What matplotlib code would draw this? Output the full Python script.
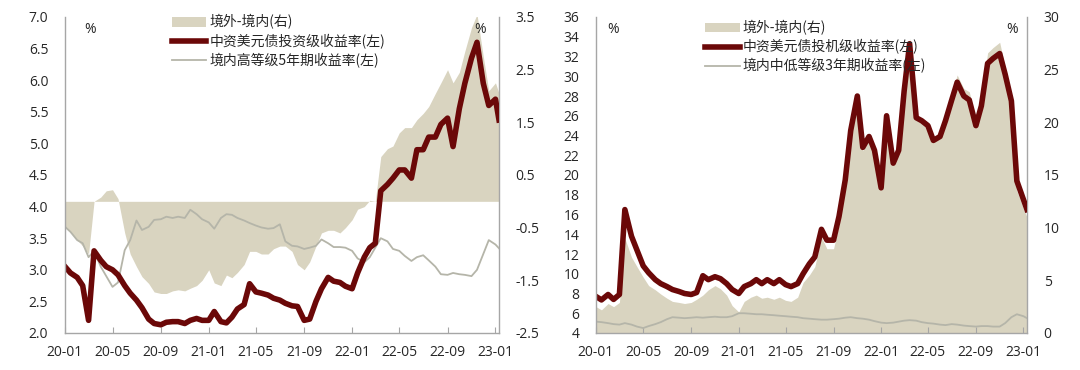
import pandas as pd
import matplotlib
matplotlib.use("Agg")
from matplotlib import pyplot as plt
from matplotlib import dates as mdates
from matplotlib.patches import Patch
from matplotlib.lines import Line2D

plt.rcParams['font.family'] = ['Open Sans', 'Noto Sans CJK SC', 'DejaVu Sans']
plt.rcParams['font.size'] = 10

# semi-monthly observation dates, last one 2023-01-10
dates = list(pd.date_range("2020-01-01", "2023-01-01", freq="SMS")) + [pd.Timestamp("2023-01-10")]

# left panel: investment grade
ig_usd = [3.05, 2.95, 2.88, 2.75, 2.2, 3.3, 3.15, 3.05, 3.0, 2.92,
          2.75, 2.63, 2.52, 2.4, 2.22, 2.15, 2.13, 2.17, 2.18, 2.18,
          2.15, 2.2, 2.23, 2.2, 2.2, 2.34, 2.18, 2.16, 2.25, 2.38,
          2.45, 2.78, 2.65, 2.63, 2.6, 2.55, 2.52, 2.47, 2.43, 2.42,
          2.2, 2.22, 2.5, 2.7, 2.88, 2.82, 2.8, 2.74, 2.7, 2.95,
          3.2, 3.35, 3.42, 4.25, 4.35, 4.45, 4.58, 4.58, 4.45, 4.9,
          4.9, 5.1, 5.1, 5.3, 5.4, 4.95, 5.55, 5.95, 6.35, 6.6,
          5.95, 5.6, 5.7, 5.37]
ig_cn = [3.68, 3.6, 3.47, 3.42, 3.2, 3.3, 3.05, 2.9, 2.73, 2.8,
         3.31, 3.47, 3.78, 3.63, 3.68, 3.79, 3.8, 3.84, 3.82, 3.84,
         3.82, 3.95, 3.88, 3.8, 3.75, 3.65, 3.82, 3.88, 3.87, 3.82,
         3.78, 3.74, 3.7, 3.67, 3.65, 3.66, 3.72, 3.45, 3.38, 3.37,
         3.33, 3.35, 3.38, 3.48, 3.42, 3.36, 3.36, 3.35, 3.3, 3.18,
         3.12, 3.2, 3.35, 3.5, 3.45, 3.33, 3.3, 3.22, 3.14, 3.2,
         3.23, 3.15, 3.05, 2.93, 2.92, 2.95, 2.93, 2.92, 2.9, 3.0,
         3.25, 3.47, 3.4, 3.34]
ig_spread = [-0.48, -0.58, -0.73, -0.85, -1.0, 0.0, 0.08, 0.2, 0.22, 0.05,
             -0.6, -1.0, -1.24, -1.43, -1.56, -1.72, -1.75, -1.75, -1.7, -1.68,
             -1.7, -1.65, -1.6, -1.5, -1.3, -1.55, -1.6, -1.4, -1.45, -1.35,
             -1.2, -0.95, -0.95, -1.0, -1.0, -0.9, -0.85, -0.85, -0.95, -1.2,
             -1.3, -1.15, -0.85, -0.6, -0.55, -0.55, -0.6, -0.5, -0.35, -0.15,
             -0.1, 0.02, 0.0, 0.85, 1.0, 1.05, 1.3, 1.4, 1.4, 1.55,
             1.67, 1.8, 2.05, 2.25, 2.5, 2.25, 2.45, 2.85, 3.3, 3.55,
             2.75, 2.1, 2.25, 2.05]

# right panel: high yield
hy_usd = [7.7, 7.35, 7.9, 7.4, 7.9, 16.5, 13.8, 12.4, 10.8, 10.1,
          9.4, 9.0, 8.7, 8.4, 8.2, 8.0, 7.9, 8.1, 9.8, 9.4,
          9.7, 9.5, 9.0, 8.4, 8.0, 8.7, 9.0, 9.4, 9.0, 9.4,
          9.0, 9.4, 8.9, 8.7, 9.0, 10.0, 11.0, 11.7, 14.5, 13.4,
          13.4, 15.8, 19.5, 24.5, 28.0, 22.8, 23.9, 22.5, 18.7, 26.0,
          21.2, 22.5, 28.5, 33.3, 25.8, 25.5, 25.0, 23.5, 23.9, 25.5,
          27.6, 29.4, 28.0, 27.6, 25.0, 27.0, 31.3, 31.8, 32.3, 30.2,
          27.5, 19.4, 17.5, 16.5]
hy_cn = [5.15, 5.1, 5.0, 4.9, 4.85, 5.0, 4.85, 4.65, 4.5, 4.7,
         4.9, 5.1, 5.4, 5.6, 5.55, 5.5, 5.55, 5.6, 5.55, 5.6,
         5.65, 5.6, 5.6, 5.7, 6.0, 6.0, 5.95, 5.9, 5.9, 5.85,
         5.8, 5.75, 5.7, 5.65, 5.6, 5.5, 5.45, 5.4, 5.35, 5.35,
         5.4, 5.45, 5.55, 5.6, 5.5, 5.45, 5.35, 5.2, 5.05, 5.0,
         5.05, 5.15, 5.25, 5.3, 5.25, 5.1, 5.0, 4.95, 4.85, 4.8,
         4.9, 4.85, 4.75, 4.7, 4.65, 4.7, 4.7, 4.65, 4.65, 5.0,
         5.6, 5.9, 5.7, 5.5]
hy_spread = [2.5, 2.2, 2.8, 2.5, 2.9, 9.0, 7.2, 6.3, 5.3, 4.5,
             4.1, 3.7, 3.3, 3.0, 2.9, 2.8, 2.9, 3.2, 3.6, 4.1,
             4.5, 4.2, 3.6, 2.6, 2.0, 3.0, 3.4, 3.6, 3.3, 3.4,
             3.2, 3.4, 3.1, 3.0, 3.4, 4.8, 5.5, 6.3, 9.1, 8.0,
             8.0, 10.3, 14.0, 18.9, 22.5, 17.3, 18.5, 17.3, 13.6, 21.0,
             16.1, 17.3, 23.2, 28.0, 20.5, 20.4, 20.0, 18.5, 19.0, 20.7,
             22.7, 24.5, 23.2, 22.9, 20.3, 22.3, 26.6, 27.1, 27.6, 25.2,
             21.9, 13.5, 11.8, 11.0]

ig_labels = ['境外-境内(右)', '中资美元债投资级收益率(左)', '境内高等级5年期收益率(左)']
hy_labels = ['境外-境内(右)', '中资美元债投机级收益率(左)', '境内中低等级3年期收益率(左)']

RED = '#6b0808'
GREY = '#b5b5a9'
FILL = '#d9d4c0'
SPINE = '#a6a6a6'
TXT = '#262626'
CJK = ['Noto Sans CJK SC', 'DejaVu Sans']


def panel(rect, usd, cn, spread, lticks, rticks, lfmt, labels, leg_xy, pct_l, pct_r):
    ax = fig.add_axes(rect)
    ax2 = ax.twinx()
    ax2.fill_between(dates, 0, spread, color=FILL, lw=0)
    ax.set_zorder(ax2.get_zorder() + 1)
    ax.patch.set_visible(False)

    ax.plot(dates, cn, color=GREY, lw=1.3)
    ax.plot(dates, usd, color=RED, lw=4.0, solid_joinstyle='round')

    ax.set_xlim(pd.Timestamp("2020-01-01"), dates[-1])
    ax.set_ylim(lticks[0], lticks[-1])
    ax.set_yticks(lticks)
    ax.set_yticklabels([lfmt % v for v in lticks])
    ax2.set_ylim(rticks[0], rticks[-1])
    ax2.set_yticks(rticks)
    ax2.set_yticklabels([lfmt % v for v in rticks])

    ax.xaxis.set_major_locator(mdates.MonthLocator(bymonth=[1, 5, 9]))
    ax.xaxis.set_major_formatter(mdates.DateFormatter('%y-%m'))

    for a in (ax, ax2):
        for s in a.spines.values():
            s.set_color(SPINE)
            s.set_linewidth(1.0)
        a.spines['top'].set_visible(False)
    ax.spines['right'].set_visible(False)
    ax2.spines['left'].set_visible(False)
    ax2.spines['bottom'].set_visible(False)

    ax.tick_params(axis='x', direction='in', length=4, color=SPINE, pad=9, labelsize=10, labelcolor=TXT)
    ax.tick_params(axis='y', length=0, pad=12, labelsize=10, labelcolor=TXT)
    ax2.tick_params(axis='y', length=0, pad=12, labelsize=10, labelcolor=TXT)

    ax.text(pct_l, 0.985, '%', transform=ax.transAxes, ha='left', va='top', fontsize=10, color=TXT)
    ax.text(pct_r, 0.985, '%', transform=ax.transAxes, ha='right', va='top', fontsize=10, color=TXT)

    handles = [Patch(facecolor=FILL, edgecolor='none'),
               Line2D([], [], color=RED, lw=4.0),
               Line2D([], [], color=GREY, lw=1.3)]
    ax.legend(handles, labels, loc='upper left', bbox_to_anchor=leg_xy, frameon=False,
              borderpad=0, borderaxespad=0, handlelength=2.5, handletextpad=0.2,
              labelspacing=0.3, prop={'family': CJK, 'size': 10}, labelcolor=TXT)
    return ax


fig = plt.figure(figsize=(10.8, 3.7), dpi=100)
H = 316 / 370
B = 1 - 333 / 370

panel([65 / 1080, B, 434 / 1080, H], ig_usd, ig_cn, ig_spread,
      [2.0, 2.5, 3.0, 3.5, 4.0, 4.5, 5.0, 5.5, 6.0, 6.5, 7.0],
      [-2.5, -1.5, -0.5, 0.5, 1.5, 2.5, 3.5], '%.1f', ig_labels, (0.246, 1.008), 0.044, 0.97)

panel([596 / 1080, B, 431 / 1080, H], hy_usd, hy_cn, hy_spread,
      list(range(4, 37, 2)), list(range(0, 31, 5)), '%d', hy_labels, (0.253, 0.99), 0.026, 0.979)

fig.savefig('out.png', dpi=100)
